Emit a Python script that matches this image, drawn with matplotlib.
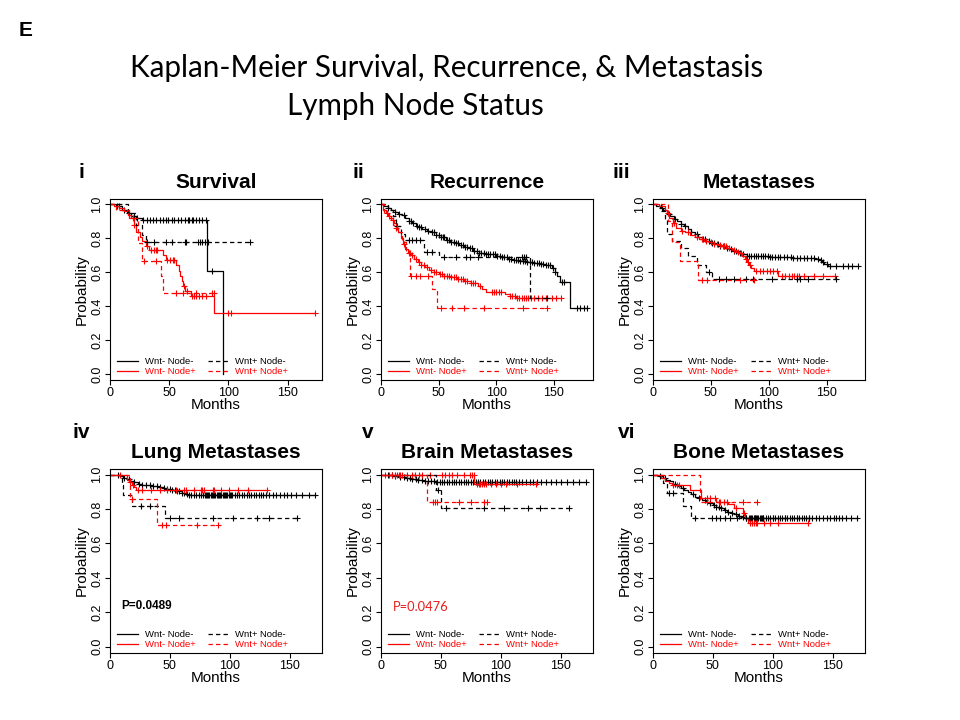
import numpy as np
import matplotlib
matplotlib.use('Agg')
import matplotlib.pyplot as plt
from matplotlib.lines import Line2D

# ---- i Survival ----
surv_nn_t = [5, 10, 14, 18, 22, 27, 82, 95]
surv_nn_s = [0.99, 0.97, 0.95, 0.93, 0.92, 0.91, 0.61, 0.0]
surv_nn_c = [6, 8, 12, 16, 20, 23, 28, 31, 34, 36, 39, 42, 45, 47, 49, 52, 54, 57, 60, 63, 66, 67, 69, 70, 73, 75, 78, 81, 86]
surv_pn_t = [15, 22, 27, 30]
surv_pn_s = [0.95, 0.88, 0.82, 0.776]
surv_pn_c = [31, 37, 47, 52, 63, 64, 74, 76, 78, 80, 83, 118]
surv_np_t = [3, 8, 12, 15, 18, 20, 22, 25, 27, 30, 33, 45, 47, 56, 58, 59, 61, 62, 63, 68, 88]
surv_np_s = [0.99, 0.98, 0.96, 0.94, 0.92, 0.88, 0.84, 0.81, 0.786, 0.756, 0.73, 0.70, 0.672, 0.64, 0.61, 0.58, 0.55, 0.52, 0.487, 0.458, 0.357]
surv_np_c = [19, 20, 31, 35, 37, 39, 40, 48, 51, 53, 54, 62.5, 65, 69, 71, 73, 75, 78, 81, 100, 102, 173]
surv_pp_t = [5, 16, 24, 27, 43, 45]
surv_pp_s = [0.97, 0.92, 0.77, 0.667, 0.58, 0.477]
surv_pp_c = [29, 39, 56, 61.5, 73, 86, 88]

# ---- ii Recurrence ----
recur_nn_t = [3, 6, 9, 12, 15, 18, 21, 24, 27, 30, 33, 36, 40, 44, 48, 52, 56, 60, 64, 68, 72, 76, 80, 85, 90, 95, 100, 105, 110, 115, 120, 126, 132, 138, 143, 148, 151, 153, 155, 164]
recur_nn_s = [0.99, 0.98, 0.97, 0.955, 0.945, 0.935, 0.92, 0.905, 0.89, 0.875, 0.865, 0.855, 0.845, 0.835, 0.82, 0.805, 0.79, 0.78, 0.77, 0.76, 0.75, 0.74, 0.725, 0.715, 0.71, 0.705, 0.695, 0.69, 0.68, 0.675, 0.665, 0.66, 0.655, 0.65, 0.64, 0.625, 0.6, 0.58, 0.545, 0.39]
recur_nn_c = [6, 12, 16, 20, 24, 26, 28, 31, 33, 35, 38, 41, 44, 46, 48, 50, 52, 54, 55, 57, 59, 61, 63, 65, 67, 69, 71, 73, 75, 77, 79, 81, 83, 85, 87, 89, 91, 93, 95, 97, 99, 101, 103, 105, 107, 109, 111, 113, 115, 117, 119, 121, 123, 125, 127, 129, 131, 133, 135, 137, 139, 141, 143, 145, 147, 149, 151, 157, 159, 170, 173, 176, 179]
recur_pn_t = [6, 10, 13, 17, 21, 37, 50, 129]
recur_pn_s = [0.97, 0.93, 0.87, 0.825, 0.79, 0.718, 0.689, 0.447]
recur_pn_c = [14, 24, 27, 30, 34, 40, 44, 55, 65, 74, 77, 84, 122, 124, 126, 144]
recur_np_t = [2, 4, 7, 9, 11, 13, 15, 17, 19, 21, 23, 26, 29, 32, 35, 38, 42, 46, 50, 55, 60, 66, 72, 78, 84, 88, 91, 108, 112, 117]
recur_np_s = [0.97, 0.95, 0.93, 0.91, 0.89, 0.86, 0.835, 0.80, 0.765, 0.735, 0.715, 0.70, 0.68, 0.66, 0.645, 0.63, 0.615, 0.60, 0.59, 0.58, 0.572, 0.56, 0.55, 0.535, 0.52, 0.50, 0.485, 0.47, 0.458, 0.447]
recur_np_c = [5, 7, 10, 13, 20, 24, 25, 27, 30, 33, 35, 37, 40, 43, 46, 48, 51, 53, 55, 57, 59, 61, 63, 65, 67, 69, 71, 73, 75, 78, 80, 82, 86, 96, 98, 100, 102, 104, 112, 114, 116, 118, 120, 122, 124, 126, 128, 130, 133, 136, 140, 143, 148, 152, 156]
recur_pp_t = [3, 6, 10, 14, 18, 22, 25, 44, 49]
recur_pp_s = [0.95, 0.92, 0.88, 0.84, 0.78, 0.72, 0.58, 0.50, 0.388]
recur_pp_c = [26, 30, 34, 41, 52, 62, 72, 89, 123, 144]

# ---- iii Metastases ----
meta_nn_t = [3, 6, 9, 12, 15, 18, 21, 24, 27, 30, 33, 36, 39, 42, 46, 50, 54, 58, 62, 66, 70, 74, 78, 81, 100, 120, 140, 144, 146, 148, 151]
meta_nn_s = [0.99, 0.98, 0.965, 0.945, 0.93, 0.915, 0.9, 0.885, 0.87, 0.855, 0.84, 0.825, 0.81, 0.795, 0.785, 0.775, 0.765, 0.755, 0.745, 0.735, 0.725, 0.715, 0.705, 0.695, 0.69, 0.685, 0.68, 0.67, 0.66, 0.65, 0.637]
meta_nn_c = [8, 14, 19, 24, 28, 33, 38, 43, 45, 48, 51, 53, 56, 58, 61, 64, 67, 70, 72, 75, 78, 81, 83, 85, 87, 89, 91, 93, 95, 97, 99, 101, 103, 105, 108, 110, 113, 116, 119, 121, 124, 127, 130, 133, 136, 139, 142, 145, 147, 150, 153, 158, 164, 168, 172, 177]
meta_pn_t = [7, 10, 12, 16, 24, 30, 38, 46, 51]
meta_pn_s = [0.96, 0.912, 0.825, 0.786, 0.74, 0.694, 0.643, 0.604, 0.561]
meta_pn_c = [48, 57, 63, 70, 80, 86, 103, 124, 127, 134, 158]
meta_np_t = [5, 10, 12, 14, 17, 20, 24, 28, 32, 36, 40, 44, 48, 52, 56, 60, 64, 68, 72, 75, 77, 79, 81, 83, 85, 87, 108]
meta_np_s = [0.99, 0.97, 0.95, 0.92, 0.89, 0.86, 0.845, 0.835, 0.82, 0.81, 0.795, 0.785, 0.776, 0.768, 0.76, 0.752, 0.742, 0.733, 0.722, 0.712, 0.698, 0.68, 0.66, 0.64, 0.625, 0.61, 0.575]
meta_np_c = [13, 18, 25, 30, 38, 42, 46, 50, 53, 55, 58, 60, 61, 63, 66, 70, 73, 76, 80, 82, 84, 89, 92, 95, 98, 101, 104, 107, 111, 114, 117, 120, 122, 124, 126, 130, 139, 147, 157]
meta_pp_t = [13, 16, 23, 39]
meta_pp_s = [0.90, 0.78, 0.665, 0.555]
meta_pp_c = [42, 47, 75, 87]

# ---- iv Lung Metastases ----
lung_nn_t = [5, 8, 11, 14, 17, 20, 23, 27, 31, 35, 40, 44, 48, 52, 56, 60, 63, 65]
lung_nn_s = [0.995, 0.99, 0.98, 0.972, 0.962, 0.955, 0.947, 0.942, 0.937, 0.932, 0.927, 0.921, 0.914, 0.908, 0.902, 0.895, 0.888, 0.88]
lung_nn_c = [7, 12, 16, 20, 24, 27, 30, 33, 36, 39, 42, 45, 48, 50, 52, 54, 56, 58, 60, 62, 64, 66, 68, 70, 72, 74, 76, 78, 79, 80, 81, 82, 83, 84, 85, 86, 87, 88, 89, 90, 91, 92, 93, 94, 95, 96, 97, 98, 99, 100, 101, 102, 104, 106, 108, 110, 112, 114, 116, 118, 120, 122, 124, 126, 128, 130, 133, 136, 139, 142, 145, 148, 151, 155, 160, 166, 171]
lung_pn_t = [10, 11, 18, 46]
lung_pn_s = [0.94, 0.879, 0.817, 0.747]
lung_pn_c = [26, 33, 50, 58, 86, 103, 123, 133, 156]
lung_np_t = [14, 16, 18, 20, 22]
lung_np_s = [0.97, 0.955, 0.94, 0.925, 0.912]
lung_np_c = [8, 17, 19, 23, 27, 34, 42, 48, 55, 62, 63.5, 70, 76, 77, 78.6, 85.6, 87, 92.6, 99.5, 106.5, 115, 131]
lung_pp_t = [17, 39]
lung_pp_s = [0.86, 0.708]
lung_pp_c = [18, 43, 47, 73, 90]

# ---- v Brain Metastases ----
brain_nn_t = [6, 10, 15, 20, 25, 30, 35, 40, 45]
brain_nn_s = [0.995, 0.99, 0.985, 0.98, 0.975, 0.97, 0.965, 0.96, 0.955]
brain_nn_c = [6, 9, 12, 16, 19, 22, 24, 26, 29, 31, 34, 37, 39, 42, 44, 47, 49, 51, 53, 55, 57, 59, 61, 63, 65, 67, 69, 71, 73, 75, 77, 79, 81, 83, 85, 87, 89, 91, 93, 95, 97, 99, 101, 103, 105, 107, 109, 111, 113, 115, 118, 121, 124, 127, 130, 134, 138, 142, 146, 150, 155, 160, 165, 171]
brain_pn_t = [46, 50]
brain_pn_s = [0.909, 0.806]
brain_pn_c = [48, 54, 86, 103, 123, 133, 157]
brain_np_t = [78]
brain_np_s = [0.945]
brain_np_c = [3.6, 6.4, 9.2, 12, 13.4, 14.8, 16.2, 17.6, 21.7, 26, 28.7, 31.5, 34.3, 41.3, 51, 53.8, 56.6, 59.4, 63.6, 69, 74.7, 76, 77.5, 80.3, 81.7, 83, 84.5, 85.9, 87.3, 91.5, 95.6, 99.8, 104, 113.8, 129]
brain_pp_t = [38]
brain_pp_s = [0.839]
brain_pp_c = [43, 45.4, 47, 65, 75, 86, 88.7]

# ---- vi Bone Metastases ----
bone_nn_t = [5, 8, 11, 14, 17, 20, 23, 26, 29, 32, 35, 38, 41, 44, 47, 50, 53, 56, 59, 62, 65, 68, 71, 74, 77]
bone_nn_s = [0.99, 0.98, 0.97, 0.96, 0.947, 0.935, 0.922, 0.91, 0.897, 0.884, 0.872, 0.862, 0.852, 0.842, 0.832, 0.822, 0.812, 0.803, 0.794, 0.785, 0.777, 0.769, 0.761, 0.754, 0.748]
bone_nn_c = [6, 10, 18, 25, 33, 38, 43, 48, 51, 53, 55, 57, 60, 63, 66, 69, 72, 75, 78, 80, 81, 82, 83, 84, 85, 86, 87, 88, 89, 90, 91, 92, 94, 96, 98, 100, 102, 104, 106, 108, 110, 112, 114, 116, 118, 120, 122, 124, 126, 128, 130, 133, 136, 139, 142, 145, 148, 151, 153, 155, 158, 161, 165, 170]
bone_pn_t = [8, 12, 25, 32]
bone_pn_s = [0.951, 0.892, 0.819, 0.748]
bone_pn_c = [13, 17, 35, 49, 53, 56, 60, 64, 70, 78, 85, 92, 100, 110, 120, 130]
bone_np_t = [7, 10, 13, 16, 31, 40, 53, 63, 68, 75, 77, 79]
bone_np_s = [0.98, 0.965, 0.95, 0.94, 0.91, 0.866, 0.843, 0.827, 0.807, 0.778, 0.75, 0.72]
bone_np_c = [17, 20, 22, 45, 48, 52, 55, 59, 62, 69, 76, 81, 83, 84, 86, 87, 93, 98, 104, 129]
bone_pp_t = [39]
bone_pp_s = [0.838]
bone_pp_c = [45, 56, 75, 87]

labels = ['Wnt- Node-', 'Wnt- Node+', 'Wnt+ Node-', 'Wnt+ Node+']

panels = [
    ('i', 'Survival', 179, [(surv_nn_t, surv_nn_s, surv_nn_c), (surv_np_t, surv_np_s, surv_np_c),
                            (surv_pn_t, surv_pn_s, surv_pn_c), (surv_pp_t, surv_pp_s, surv_pp_c)]),
    ('ii', 'Recurrence', 184, [(recur_nn_t, recur_nn_s, recur_nn_c), (recur_np_t, recur_np_s, recur_np_c),
                               (recur_pn_t, recur_pn_s, recur_pn_c), (recur_pp_t, recur_pp_s, recur_pp_c)]),
    ('iii', 'Metastases', 183, [(meta_nn_t, meta_nn_s, meta_nn_c), (meta_np_t, meta_np_s, meta_np_c),
                                (meta_pn_t, meta_pn_s, meta_pn_c), (meta_pp_t, meta_pp_s, meta_pp_c)]),
    ('iv', 'Lung Metastases', 177, [(lung_nn_t, lung_nn_s, lung_nn_c), (lung_np_t, lung_np_s, lung_np_c),
                                    (lung_pn_t, lung_pn_s, lung_pn_c), (lung_pp_t, lung_pp_s, lung_pp_c)]),
    ('v', 'Brain Metastases', 177, [(brain_nn_t, brain_nn_s, brain_nn_c), (brain_np_t, brain_np_s, brain_np_c),
                                    (brain_pn_t, brain_pn_s, brain_pn_c), (brain_pp_t, brain_pp_s, brain_pp_c)]),
    ('vi', 'Bone Metastases', 177, [(bone_nn_t, bone_nn_s, bone_nn_c), (bone_np_t, bone_np_s, bone_np_c),
                                    (bone_pn_t, bone_pn_s, bone_pn_c), (bone_pp_t, bone_pp_s, bone_pp_c)]),
]

colors = ['black', 'red', 'black', 'red']
styles = ['-', '-', (0, (3.5, 2.5)), (0, (3.5, 2.5))]

plt.rcParams['font.family'] = 'Liberation Sans'

W, H = 960, 720
fig = plt.figure(figsize=(9.6, 7.2), dpi=100)

# pixel boxes: left, top, width, height
col_left = [110, 381, 653]
row_top = [199, 469]
row_h = [181, 184]
lab_x = [79, 353, 612, 73, 362, 618]


def km(ax, t, s, c, color, ls):
    x = [0] + list(t)
    y = [1.0] + list(s)
    end = max(max(c) if len(c) else 0, x[-1])
    x.append(end)
    y.append(y[-1])
    ax.step(x, y, where='post', color=color, ls=ls, lw=0.9)
    idx = np.searchsorted(x, c, side='right') - 1
    cy = np.array(y)[idx]
    ax.plot(c, cy, ls='none', marker='+', color=color, ms=4.5, mew=0.8)


for k, (lab, title, xmax, curves) in enumerate(panels):
    r, cidx = divmod(k, 3)
    l, tp, w, h = col_left[cidx], row_top[r], 212, row_h[r]
    ax = fig.add_axes([l / W, 1 - (tp + h) / H, w / W, h / H])
    for (t, s, c), col, ls in zip(curves, colors, styles):
        km(ax, t, s, c, col, ls)
    ax.set_xlim(0, xmax)
    ax.set_ylim(-0.036, 1.032)
    ax.set_xticks([0, 50, 100, 150])
    ax.set_yticks([0, 0.2, 0.4, 0.6, 0.8, 1.0])
    ax.set_yticklabels(['0.0', '0.2', '0.4', '0.6', '0.8', '1.0'], rotation=90, va='center')
    ax.tick_params(direction='out', length=3.5, width=0.8, pad=1.5, labelsize=9)
    for sp in ax.spines.values():
        sp.set_linewidth(0.8)
    ax.set_xlabel('Months', fontsize=11)
    ax.set_ylabel('Probability', fontsize=11)
    ax.xaxis.set_label_coords(0.5, -0.1)
    ax.yaxis.set_label_coords(-0.10, 0.5)

    handles = [Line2D([], [], color=col, ls=ls, lw=0.9) for col, ls in zip(colors, styles)]
    leg = ax.legend(handles, labels, ncol=2, loc='lower left', bbox_to_anchor=(0.035, 0.02),
                    frameon=False, fontsize=6.8, handlelength=2.2, handletextpad=0.7,
                    columnspacing=1.3, labelspacing=0.15, borderpad=0, borderaxespad=0)
    for txt, col in zip(leg.get_texts(), colors):
        txt.set_color(col)

    base_y = 188 if r == 0 else 458
    fig.text((l + w / 2) / W, 1 - base_y / H, title, ha='center', va='baseline',
             fontsize=15, fontweight='bold')
    fig.text(lab_x[k] / W, 1 - (178.5 if r == 0 else 438) / H, lab, ha='left', va='baseline',
             fontsize=15, fontweight='bold')

    if lab == 'iv':
        ax.text(9.8, 0.235, 'P=0.0489', ha='left', va='center', fontsize=8.5, fontweight='bold')
    if lab == 'v':
        ax.text(10.3, 0.232, 'P=0.0476', ha='left', va='center', fontsize=9.3,
                color='#e61e1e', family='Lato')

fig.text(19 / W, 1 - 36 / H, 'E', ha='left', va='baseline', fontsize=15, fontweight='bold')
fig.text(447 / W, 1 - 77 / H, 'Kaplan-Meier Survival, Recurrence, & Metastasis', ha='center',
         va='baseline', fontsize=21.3, family='Lato')
fig.text(415 / W, 1 - 115 / H, 'Lymph Node Status', ha='center', va='baseline', fontsize=21.3,
         family='Lato')

fig.savefig('out.png', dpi=100)
